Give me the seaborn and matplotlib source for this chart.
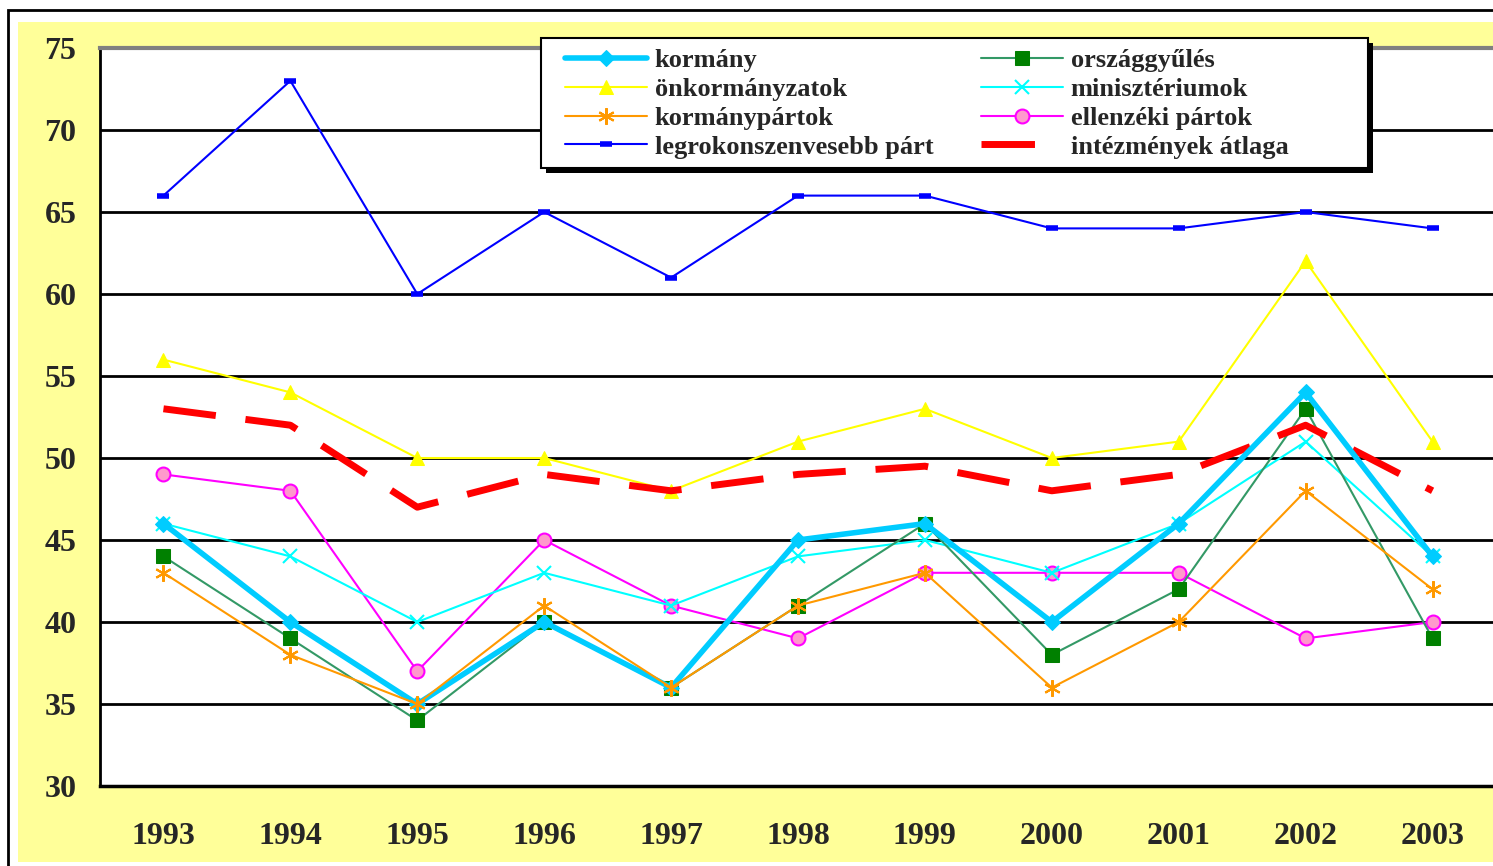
import pandas as pd
import matplotlib.pyplot as plt
import seaborn as sns
from matplotlib.patches import Rectangle
from matplotlib.lines import Line2D
from matplotlib.ticker import FixedLocator

years = ["1993", "1994", "1995", "1996", "1997", "1998", "1999", "2000", "2001", "2002", "2003"]

kormany = [46, 40, 35, 40, 36, 45, 46, 40, 46, 54, 44]
orszaggyules = [44, 39, 34, 40, 36, 41, 46, 38, 42, 53, 39]
onkormanyzatok = [56, 54, 50, 50, 48, 51, 53, 50, 51, 62, 51]
miniszteriumok = [46, 44, 40, 43, 41, 44, 45, 43, 46, 51, 44]
kormanypartok = [43, 38, 35, 41, 36, 41, 43, 36, 40, 48, 42]
ellenzeki = [49, 48, 37, 45, 41, 39, 43, 43, 43, 39, 40]
legrokon = [66, 73, 60, 65, 61, 66, 66, 64, 64, 65, 64]
atlag = [53, 52, 47, 49, 48, 49, 49.5, 48, 49, 52, 48]

sns.set_style("white")
plt.rcParams["font.family"] = ["Liberation Serif", "DejaVu Serif"]
plt.rcParams["font.weight"] = "bold"

W, H = 1493, 866
fig = plt.figure(figsize=(14.93, 8.66), dpi=100)
fig.patch.set_facecolor("white")
# outer frame + yellow chart area (behind the axes)
fig.patches.append(Rectangle((8 / W, -0.05), 1.2, 1 - 10 / H + 0.05, transform=fig.transFigure,
                             facecolor="none", edgecolor="black", linewidth=2, zorder=-2))
fig.patches.append(Rectangle((18 / W, 4 / H), 1.2, (862 - 22) / H, transform=fig.transFigure,
                             facecolor="#FFFF99", edgecolor="none", zorder=-1))

ax = fig.add_axes([100 / W, 1 - 786 / H, 1396 / W, (786 - 48) / H])
ax.set_facecolor("white")

handles = {}


def draw(name, vals, **kw):
    sns.lineplot(x=years, y=vals, ax=ax, sort=False, label=name, **kw)
    handles[name] = ax.get_lines()[-1]


draw("legrokonszenvesebb párt", legrokon, color="#0000FF", linewidth=1.5, marker="_",
     markersize=8, markeredgewidth=4, markeredgecolor="#0000FF", zorder=3)
draw("önkormányzatok", onkormanyzatok, color="#FFFF00", linewidth=1.5, marker="^",
     markersize=10, markeredgecolor="#FFFF00", zorder=3)
draw("intézmények átlaga", atlag, color="#FF0000", linewidth=5, dashes=(7.6, 4.3), zorder=4)
draw("ellenzéki pártok", ellenzeki, color="#FF00FF", linewidth=1.5, marker="o", markersize=10,
     markerfacecolor="#FF99CC", markeredgecolor="#FF00FF", markeredgewidth=1.5, zorder=3)
draw("minisztériumok", miniszteriumok, color="#00FFFF", linewidth=1.5, marker="x",
     markersize=10, markeredgewidth=1.5, markeredgecolor="#00FFFF", zorder=3)
draw("országgyűlés", orszaggyules, color="#339966", linewidth=1.5, marker="s", markersize=10,
     markerfacecolor="#008000", markeredgecolor="#008000", zorder=3)
draw("kormány", kormany, color="#00CCFF", linewidth=4, marker="D", markersize=8,
     markeredgecolor="#00CCFF", zorder=5)
draw("kormánypártok", kormanypartok, color="#FF9900", linewidth=1.5, marker=(6, 2, 0),
     markersize=12, markeredgewidth=1.5, markeredgecolor="#FF9900", zorder=6)

ax.get_legend().remove()
# legend sample for the average: one short red bar, as in the original
handles["intézmények átlaga"] = Line2D([], [], color="#FF0000", linewidth=5,
                                       dashes=(7.7, 20), solid_capstyle="butt")

ax.set_ylim(30, 75)
ax.set_xlim(-0.5, 10.5)
ax.set_yticks(range(30, 80, 5))
ax.yaxis.grid(True, color="black", linewidth=2)
ax.set_axisbelow(True)
ax.set_xlabel("")
ax.set_ylabel("")

ax.xaxis.set_minor_locator(FixedLocator([i - 0.5 for i in range(12)]))
ax.tick_params(axis="x", which="major", length=0, pad=26, labelsize=23)
ax.tick_params(axis="x", which="minor", length=9, width=2, direction="out", color="black")
ax.tick_params(axis="y", length=9, width=2, direction="out", color="black", pad=8, labelsize=23)
for lab in ax.get_xticklabels() + ax.get_yticklabels():
    lab.set_fontweight("bold")

ax.spines["left"].set_color("black")
ax.spines["left"].set_linewidth(2)
ax.spines["bottom"].set_color("black")
ax.spines["bottom"].set_linewidth(2.5)
ax.spines["top"].set_color("#808080")
ax.spines["top"].set_linewidth(3)
ax.spines["right"].set_visible(False)

# legend frame with its black shadow
fig.patches.append(Rectangle((546 / W, 1 - 173 / H), 827 / W, 130 / H, transform=fig.transFigure,
                             facecolor="black", edgecolor="none", zorder=8))
fig.patches.append(Rectangle((541 / W, 1 - 168 / H), 827 / W, 130 / H, transform=fig.transFigure,
                             facecolor="white", edgecolor="black", linewidth=1.5, zorder=9))

order = ["kormány", "önkormányzatok", "kormánypártok", "legrokonszenvesebb párt",
         "országgyűlés", "minisztériumok", "ellenzéki pártok", "intézmények átlaga"]
leg = fig.legend([handles[n] for n in order], order, ncol=2, loc="upper left",
                 bbox_to_anchor=(565 / W, 1 - 49 / H), frameon=False,
                 prop={"family": "Liberation Serif", "weight": "bold", "size": 19},
                 handlelength=3.1, handletextpad=0.3, labelspacing=0.2, borderpad=0,
                 columnspacing=1.8, borderaxespad=0)
leg.set_zorder(10)

fig.savefig("out.png", dpi=100)
